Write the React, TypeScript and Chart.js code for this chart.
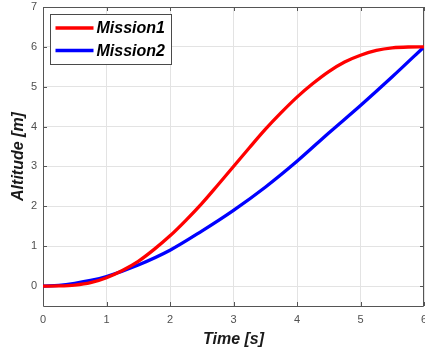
import React, { useEffect, useRef } from "react";
import { Chart, registerables } from "chart.js";

Chart.register(...registerables);

const mission1Time = [0, 0.25, 0.5, 0.75, 1, 1.25, 1.5, 1.75, 2, 2.25, 2.5, 2.75, 3, 3.25, 3.5, 3.75, 4, 4.25, 4.5, 4.75, 5, 5.25, 5.5, 5.75, 6];
const mission1Alt = [0, 0.004, 0.025, 0.085, 0.21, 0.39, 0.62, 0.92, 1.26, 1.65, 2.07, 2.53, 3.0, 3.47, 3.93, 4.35, 4.74, 5.08, 5.38, 5.62, 5.79, 5.91, 5.975, 5.997, 6.0];

const mission2Time = [0, 0.25, 0.5, 0.75, 1, 1.5, 2, 2.5, 3, 3.5, 4, 4.5, 5, 5.5, 6];
const mission2Alt = [0, 0.02, 0.07, 0.14, 0.24, 0.53, 0.9, 1.38, 1.9, 2.48, 3.13, 3.84, 4.53, 5.25, 6.0];

const xTicks = [0, 1, 2, 3, 4, 5, 6];
const yTicks = [0, 1, 2, 3, 4, 5, 6, 7];

const seriesNames = ["Mission1", "Mission2"];
const seriesColors = ["#ff0000", "#0000ff"];

const FONT = "'Liberation Sans', Arial, Helvetica, sans-serif";

const boxPlugin = {
  id: "matlabBox",
  beforeDatasetsDraw(chart: any) {
    const { ctx, chartArea } = chart;
    const { left, right, top, bottom } = chartArea;
    const xs = chart.scales.x;
    const ys = chart.scales.y;
    ctx.save();
    ctx.strokeStyle = "#555555";
    ctx.lineWidth = 1;
    ctx.beginPath();
    ctx.rect(Math.round(left) + 0.5, Math.round(top) + 0.5, Math.round(right - left) - 1, Math.round(bottom - top));
    ctx.stroke();
    ctx.beginPath();
    const tl = 4;
    xTicks.forEach((v) => {
      const px = Math.round(xs.getPixelForValue(v)) + 0.5;
      ctx.moveTo(px, bottom);
      ctx.lineTo(px, bottom - tl);
      ctx.moveTo(px, top);
      ctx.lineTo(px, top + tl);
    });
    yTicks.forEach((v) => {
      const py = Math.round(ys.getPixelForValue(v)) + 0.5;
      ctx.moveTo(left, py);
      ctx.lineTo(left + tl, py);
      ctx.moveTo(right, py);
      ctx.lineTo(right - tl, py);
    });
    ctx.stroke();
    ctx.restore();
  },
  afterDraw(chart: any) {
    const { ctx, chartArea } = chart;
    const bx = chartArea.left + 7.5;
    const by = chartArea.top + 7.5;
    const bw = 121;
    const bh = 50;
    ctx.save();
    ctx.fillStyle = "#ffffff";
    ctx.fillRect(bx, by, bw, bh);
    ctx.strokeStyle = "#4a4a4a";
    ctx.lineWidth = 1;
    ctx.strokeRect(bx, by, bw, bh);
    chart.data.datasets.forEach((ds: any, i: number) => {
      const y = by + 13.5 + i * 22.5;
      ctx.strokeStyle = ds.borderColor;
      ctx.lineWidth = 3.5;
      ctx.beginPath();
      ctx.moveTo(bx + 5, y);
      ctx.lineTo(bx + 43, y);
      ctx.stroke();
      ctx.fillStyle = "#000000";
      ctx.font = `italic bold 16px ${FONT}`;
      ctx.textBaseline = "middle";
      ctx.textAlign = "left";
      ctx.fillText(ds.label, bx + 46, y + 1);
    });
    ctx.restore();
  },
};

export default function App() {
  const canvasRef = useRef<HTMLCanvasElement | null>(null);

  useEffect(() => {
    const canvas = canvasRef.current;
    if (!canvas) return;
    const chart = new Chart(canvas, {
      type: "line",
      data: {
        datasets: [
          {
            label: seriesNames[0],
            data: mission1Time.map((t, i) => ({ x: t, y: mission1Alt[i] })),
            borderColor: seriesColors[0],
            backgroundColor: seriesColors[0],
            borderWidth: 3.3,
            pointRadius: 0,
            cubicInterpolationMode: "monotone",
            fill: false,
          },
          {
            label: seriesNames[1],
            data: mission2Time.map((t, i) => ({ x: t, y: mission2Alt[i] })),
            borderColor: seriesColors[1],
            backgroundColor: seriesColors[1],
            borderWidth: 3.3,
            pointRadius: 0,
            cubicInterpolationMode: "monotone",
            fill: false,
          },
        ],
      },
      options: {
        responsive: false,
        animation: false,
        layout: { padding: { top: 7, right: 1, left: 0, bottom: 0 } },
        plugins: {
          legend: { display: false },
          tooltip: { enabled: false },
        },
        scales: {
          x: {
            type: "linear",
            min: 0,
            max: 6,
            afterBuildTicks: (scale: any) => {
              scale.ticks = xTicks.map((v) => ({ value: v }));
            },
            afterFit: (scale: any) => {
              scale.height = 48;
              scale.paddingLeft = 0;
              scale.paddingRight = 0;
            },
            grid: { color: "#e3e3e3", lineWidth: 1, drawTicks: false },
            border: { display: false },
            ticks: {
              padding: 7,
              color: "#505050",
              font: { family: FONT, size: 11 },
              maxRotation: 0,
              autoSkip: false,
            },
            title: {
              display: true,
              text: "Time [s]",
              color: "#1a1a1a",
              font: { family: FONT, size: 16, weight: "bold", style: "italic" },
              padding: { top: 5, bottom: 5 },
            },
          },
          y: {
            type: "linear",
            min: -0.5,
            max: 7,
            afterBuildTicks: (scale: any) => {
              scale.ticks = yTicks.map((v) => ({ value: v }));
            },
            afterFit: (scale: any) => {
              scale.width = 43;
              scale.paddingTop = 0;
              scale.paddingBottom = 0;
            },
            grid: { color: "#e3e3e3", lineWidth: 1, drawTicks: false },
            border: { display: false },
            ticks: {
              padding: 6,
              color: "#505050",
              font: { family: FONT, size: 11 },
              autoSkip: false,
            },
            title: {
              display: true,
              text: "Altitude [m]",
              color: "#1a1a1a",
              font: { family: FONT, size: 16, weight: "bold", style: "italic" },
              padding: { top: 9, bottom: 9 },
            },
          },
        },
      },
      plugins: [boxPlugin],
    } as any);
    return () => chart.destroy();
  }, []);

  return (
    <div style={{ position: "fixed", left: 0, top: 0, width: 425, height: 354, background: "#ffffff" }}>
      <canvas ref={canvasRef} width={425} height={354} style={{ display: "block", width: 425, height: 354 }} />
    </div>
  );
}
